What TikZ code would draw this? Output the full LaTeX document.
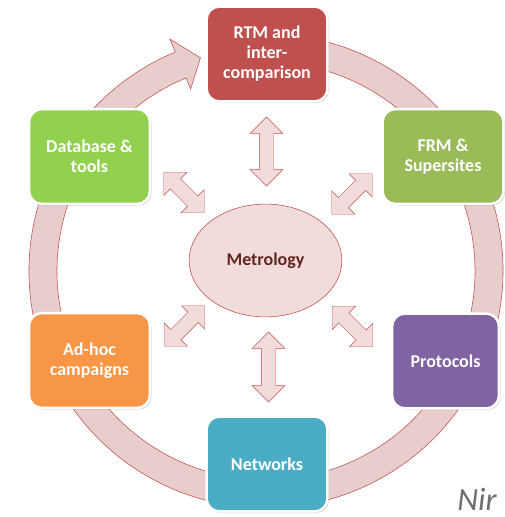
\documentclass[tikz,border=0pt]{standalone}
\usepackage{fontspec}
\setmainfont{Carlito}
\usetikzlibrary{shapes.geometric,shapes.arrows,shadows}

\definecolor{accred}{HTML}{C0504D}
\definecolor{ringfill}{HTML}{E8CDCD}
\definecolor{pinkfill}{HTML}{F2DCDB}
\definecolor{darkred}{HTML}{632523}
\definecolor{boxgreen}{HTML}{92D050}
\definecolor{boxolive}{HTML}{9BBB59}
\definecolor{boxorange}{HTML}{F79646}
\definecolor{boxpurple}{HTML}{8064A2}
\definecolor{boxaqua}{HTML}{4BACC6}
\definecolor{nirgray}{HTML}{6D6E71}

\tikzset{
  box/.style={draw=white, line width=0.6mm, rounded corners=3.2mm,
    text=white, align=center, inner sep=0pt,
    font=\bfseries\fontsize{12.8pt}{14.2pt}\selectfont,
    minimum width=30.2mm, minimum height=23.7mm,
    drop shadow={shadow xshift=0.4mm, shadow yshift=-0.4mm, opacity=0.3}},
  link/.style={double arrow, draw=accred, fill=pinkfill, line width=0.3pt,
    double arrow head extend=2.3mm, minimum width=8.1mm,
    inner xsep=0pt, inner ysep=1.75mm},
  ring/.style={draw=accred, fill=ringfill, line width=0.4pt}
}

\begin{document}
\begin{tikzpicture}[x=0.25mm, y=-0.25mm]
  \useasboundingbox (0,0) rectangle (504,517);

  % cycle arrow round the boxes
  \begin{scope}[shift={(266,271)}]
    \draw[ring] (-80:237) arc[start angle=-80, end angle=247.5, radius=237]
      -- (247.5:251) -- (252.9:223) -- (247.5:197) -- (247.5:209)
      arc[start angle=247.5, end angle=-80, radius=209] -- cycle;
  \end{scope}

  % the six boxes
  \node[box, fill=accred] (rtm) at (267,54) {RTM and\\inter-\\comparison};
  \node[box, fill=boxgreen] (db) at (89.5,156.5) {Database \&\\tools};
  \node[box, fill=boxolive] (frm) at (443,156.5) {FRM \&\\Supersites};
  \node[box, fill=boxorange] (adhoc) at (89.5,360.5) {Ad-hoc\\campaigns};
  \node[box, fill=boxpurple, minimum width=26.7mm] (prot) at (445.5,361) {Protocols};
  \node[box, fill=boxaqua] (netw) at (267,464) {Networks};

  % centre
  \node[ellipse, draw=accred, fill=pinkfill, line width=0.4pt,
    minimum width=38.2mm, minimum height=28.2mm, text=darkred,
    font=\bfseries\fontsize{12.8pt}{14.2pt}\selectfont] (metro) at (265.5,260.5) {Metrology};

  % links to the centre
  \node[link, minimum height=17.25mm, rotate=90] (l1) at (266.5,151.5) {};
  \node[link, minimum height=17.5mm, rotate=90] (l2) at (268.5,367) {};
  \node[link, minimum height=14.3mm, rotate=-45] (l3) at (184,192.5) {};
  \node[link, minimum height=14.3mm, rotate=45] (l4) at (352,194) {};
  \node[link, minimum height=14.3mm, rotate=45] (l5) at (184.5,326) {};
  \node[link, minimum height=14.3mm, rotate=-45] (l6) at (352.5,326.5) {};

  \node[anchor=base west, text=nirgray, inner sep=0pt,
    font=\itshape\fontsize{23pt}{26pt}\selectfont] (nir) at (457,510) {Nir};
\end{tikzpicture}
\end{document}
